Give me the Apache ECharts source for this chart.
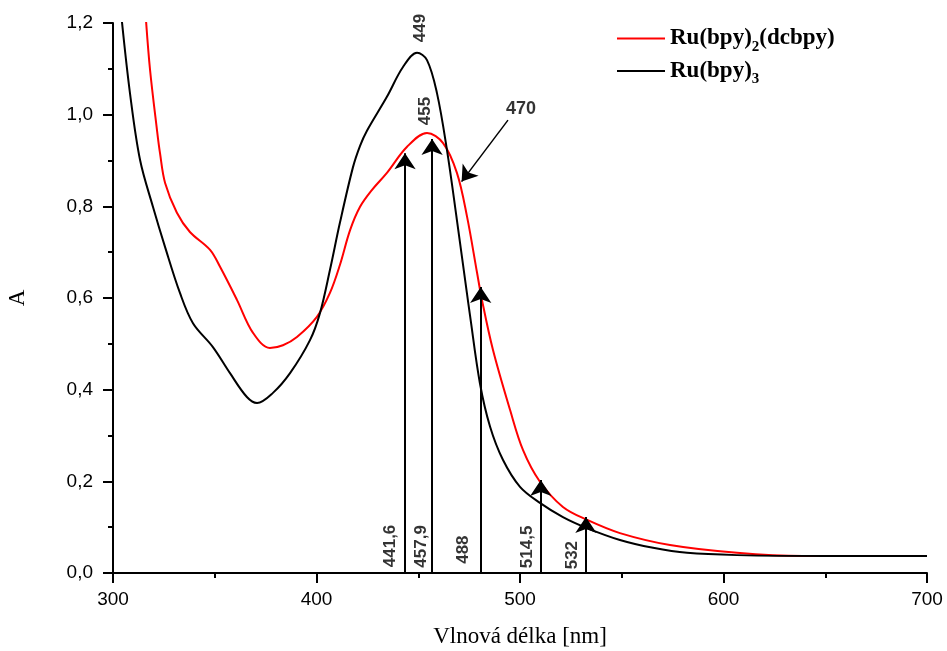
<!DOCTYPE html>
<html>
<head>
<meta charset="utf-8">
<script src="https://cdn.jsdelivr.net/npm/echarts@6/dist/echarts.min.js"></script>
<style>html,body{margin:0;padding:0;background:#fff}#c{width:947px;height:651px}</style>
</head>
<body>
<div id="c"></div>
<script>
// Ru(bpy)3 (black)
const blackX = [304.3,308.4,313.3,319.7,325.6,332.9,339.3,349.1,357.5,365.8,370.8,378.6,387.0,396.8,401.7,406.6,411.5,417.9,421.4,424.8,434.6,442.5,449.4,454.3,459.2,464.1,469.0,473.9,475.4,480.3,485.3,491.6,500.0,509.8,521.1,532.9,549.1,565.4,582.1,606.6,650,700];
const blackY = [1.207,1.045,0.901,0.798,0.711,0.611,0.545,0.493,0.436,0.384,0.371,0.393,0.436,0.508,0.567,0.661,0.764,0.885,0.932,0.965,1.039,1.104,1.135,1.119,1.047,0.923,0.770,0.611,0.563,0.414,0.319,0.247,0.188,0.153,0.122,0.098,0.072,0.055,0.044,0.039,0.037,0.037];
// Ru(bpy)2(dcbpy) (red)
const redX = [316.2,318.2,321.6,323.1,325.6,331.4,337.8,347.7,352.6,360.9,368.8,377.1,383.5,390.4,400.2,406.6,411.5,416.5,421.4,427.3,434.6,444.5,454.3,462.2,469.0,474.0,478.9,481.3,486.7,495.1,501.5,509.8,521.1,532.9,549.1,573.7,606.6,639.1,700];
const redY = [1.207,1.098,0.967,0.916,0.851,0.786,0.744,0.705,0.668,0.596,0.524,0.491,0.497,0.515,0.559,0.611,0.672,0.748,0.799,0.836,0.873,0.930,0.960,0.938,0.873,0.777,0.655,0.596,0.487,0.356,0.268,0.199,0.144,0.116,0.087,0.061,0.044,0.037,0.037];

// laser lines (arrows)
const laserLabels = ['441,6','457,9','488','514,5','532'];
const arrowX = [443.5,456.8,480.7,510.2,532.4];
const arrowTop = [0.916,0.947,0.624,0.203,0.122];
const laserLabelAnchor = [[436.1,0.059],[451.7,0.058],[472.0,0.051],[503.4,0.057],[525.6,0.039]];

// peak annotations
const peakLabels = ['449','455'];
const peakLabelAnchor = [[450.9,1.189],[453.3,1.008]];
const shoulderLabel = '470';
const shoulderLabelAnchor = [500.5,1.012];
const shoulderArrow = [[494.1,0.988],[471.3,0.854]];

const seriesNames = ['Ru(bpy)2(dcbpy)','Ru(bpy)3'];

const zip = (xs, ys) => xs.map((x, i) => [x, ys[i]]);

const chart = echarts.init(document.getElementById('c'), null, {renderer: 'canvas'});
const axisFont = 'Liberation Sans, Arial, sans-serif';
const serif = 'Liberation Serif, Times New Roman, serif';

chart.setOption({
  animation: false,
  backgroundColor: '#fff',
  grid: {left: 113, right: 20, top: 23, bottom: 78, containLabel: false, outerBoundsMode: 'none'},
  legend: {
    orient: 'vertical',
    left: 612,
    top: 22,
    itemWidth: 48,
    itemHeight: 14,
    itemGap: 5,
    icon: 'path://M0,6 L48,6 L48,8 L0,8 Z',
    data: [
      {name: seriesNames[0], itemStyle: {color: '#ff0000'}},
      {name: seriesNames[1], itemStyle: {color: '#000'}}
    ],
    formatter: function (n) {
      if (n === seriesNames[0]) return '{b|Ru(bpy)}{s|2}{b|(dcbpy)}';
      return '{b|Ru(bpy)}{s|3}';
    },
    textStyle: {
      padding: [0, 0, 0, 0],
      rich: {
        b: {fontFamily: serif, fontWeight: 'bold', fontSize: 23, color: '#000', lineHeight: 32, verticalAlign: 'middle'},
        s: {fontFamily: serif, fontWeight: 'bold', fontSize: 15, color: '#000', lineHeight: 14, verticalAlign: 'bottom'}
      }
    }
  },
  xAxis: {
    type: 'value',
    min: 300, max: 700, interval: 100,
    name: 'Vlnová délka [nm]',
    nameLocation: 'middle',
    nameGap: 52,
    nameTextStyle: {fontFamily: serif, fontSize: 23, color: '#000'},
    axisLine: {show: true, onZero: false, lineStyle: {color: '#000', width: 2}},
    axisTick: {show: true, inside: false, length: 10, lineStyle: {color: '#000', width: 2}},
    minorTick: {show: true, splitNumber: 2, length: 5, lineStyle: {color: '#000', width: 2}},
    splitLine: {show: false},
    axisLabel: {fontFamily: axisFont, fontSize: 19, color: '#000', margin: 17}
  },
  yAxis: {
    type: 'value',
    min: 0, max: 1.2, interval: 0.2,
    name: 'A',
    nameLocation: 'middle',
    nameGap: 84,
    nameTextStyle: {fontFamily: serif, fontSize: 23, color: '#000'},
    axisLine: {show: true, onZero: false, lineStyle: {color: '#000', width: 2}},
    axisTick: {show: true, inside: false, length: 10, lineStyle: {color: '#000', width: 2}},
    minorTick: {show: true, splitNumber: 2, length: 5, lineStyle: {color: '#000', width: 2}},
    splitLine: {show: false},
    axisLabel: {fontFamily: axisFont, fontSize: 19, color: '#000', margin: 20,
      formatter: v => v.toFixed(1).replace('.', ',')}
  },
  series: [
    {
      name: seriesNames[0], type: 'line', data: zip(redX, redY),
      smooth: 0.35, symbol: 'none', clip: true,
      lineStyle: {color: '#ff0000', width: 2}, itemStyle: {color: '#ff0000'}, z: 3
    },
    {
      name: seriesNames[1], type: 'line', data: zip(blackX, blackY),
      smooth: 0.35, symbol: 'none', clip: true,
      lineStyle: {color: '#000', width: 2}, itemStyle: {color: '#000'}, z: 4
    },
    {
      name: 'arrows', type: 'lines', coordinateSystem: 'cartesian2d',
      symbol: ['none', 'arrow'], symbolSize: [9, 16],
      lineStyle: {color: '#000', width: 2, opacity: 1},
      data: arrowX.map((x, i) => ({coords: [[x, 0], [x, arrowTop[i]]]})),
      z: 5
    },
    {
      name: 'shoulderArrow', type: 'lines', coordinateSystem: 'cartesian2d',
      symbol: ['none', 'arrow'], symbolSize: [8, 15],
      lineStyle: {color: '#000', width: 1.5, opacity: 1},
      data: [{coords: shoulderArrow}],
      z: 5
    },
    {
      name: 'laserLabels', type: 'scatter', symbolSize: 0, silent: true,
      data: laserLabelAnchor.map(p => p),
      label: {show: true, position: 'inside', rotate: 90,
        formatter: p => laserLabels[p.dataIndex],
        fontFamily: axisFont, fontWeight: 'bold', fontSize: 17, color: '#000'},
      z: 6
    },
    {
      name: 'peakLabels', type: 'scatter', symbolSize: 0, silent: true,
      data: peakLabelAnchor.map(p => p),
      label: {show: true, position: 'inside', rotate: 90,
        formatter: p => peakLabels[p.dataIndex],
        fontFamily: axisFont, fontWeight: 'bold', fontSize: 17, color: '#000'},
      z: 6
    },
    {
      name: 'shoulderLabel', type: 'scatter', symbolSize: 0, silent: true,
      data: [shoulderLabelAnchor],
      label: {show: true, position: 'inside',
        formatter: () => shoulderLabel,
        fontFamily: axisFont, fontWeight: 'bold', fontSize: 18, color: '#000'},
      z: 6
    }
  ]
});
</script>
</body>
</html>
